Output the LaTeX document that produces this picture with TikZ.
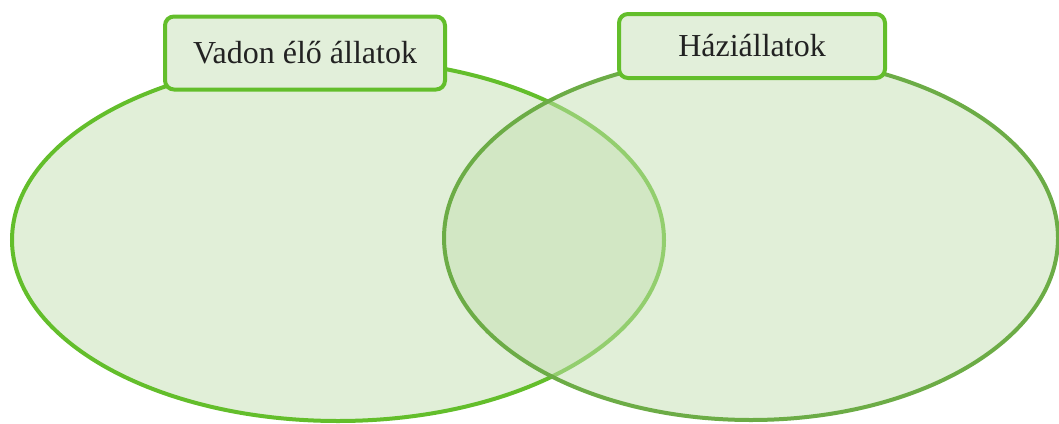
\documentclass[tikz,border=0pt]{standalone}
\usepackage{fontspec}
\setmainfont{Liberation Serif}
\usepackage{tikz}
\definecolor{wildgreen}{RGB}{99,190,43}
\definecolor{homegreen}{RGB}{108,172,70}
\definecolor{setfill}{RGB}{195,223,177}
\definecolor{boxfill}{RGB}{226,239,218}
\definecolor{labeltext}{RGB}{34,34,34}
\tikzset{%
    setlabel/.style={%
        draw=wildgreen, line width=4pt, fill=boxfill, rounded corners=9pt,
        inner sep=0pt, text=labeltext,
        font=\fontsize{32}{38}\selectfont
    }
}

\begin{document}
\begin{tikzpicture}[x=1pt,y=-1pt]
    \useasboundingbox (0,0) rectangle (1059,423);
    \fill[setfill,fill opacity=0.5] (338,240) ellipse [x radius=326, y radius=181];
    \draw[wildgreen,line width=4pt] (338,240) ellipse [x radius=326, y radius=181];
    \fill[setfill,fill opacity=0.5] (751,238) ellipse [x radius=307, y radius=182];
    \draw[homegreen,line width=4pt] (751,238) ellipse [x radius=307, y radius=182];
    \node[setlabel, minimum width=280pt, minimum height=73pt] (wild) at (305,53) {Vadon élő állatok};
    \node[setlabel, minimum width=266pt, minimum height=64pt] (home) at (752,46) {Háziállatok};
\end{tikzpicture}
\end{document}
